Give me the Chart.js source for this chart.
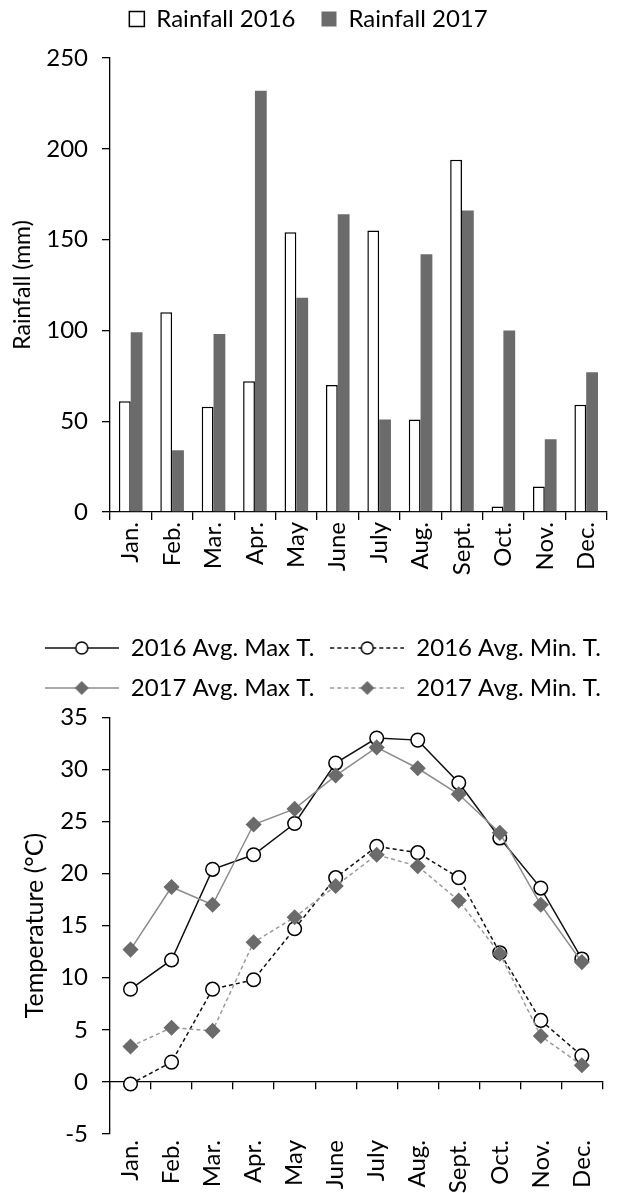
<!DOCTYPE html>
<html lang="en">
<head>
<meta charset="UTF-8">
<title>Rainfall and temperature 2016-2017</title>
<script src="https://cdn.jsdelivr.net/npm/chart.js@4.4.3/dist/chart.umd.min.js"></script>
<style>
    * { margin: 0; padding: 0; }
    body { background: #fff; width: 617px; }
    .chartBox { position: relative; width: 617px; }
    #rainBox { height: 597px; }
    #tempBox { height: 596px; }
</style>
</head>
<body>
<div class="chartBox" id="rainBox"><canvas id="rainChart"></canvas></div>
<div class="chartBox" id="tempBox"><canvas id="tempChart"></canvas></div>
<script>
const months = ['Jan.', 'Feb.', 'Mar.', 'Apr.', 'May', 'June', 'July', 'Aug.', 'Sept.', 'Oct.', 'Nov.', 'Dec.'];

// monthly rainfall (mm)
const rain2016 = [61, 110, 58, 72, 154, 70, 155, 51, 194, 3, 14, 59];
const rain2017 = [99, 34, 98, 232, 118, 164, 51, 142, 166, 100, 40, 77];

// monthly average temperatures (°C)
const maxT2016 = [8.9, 11.7, 20.4, 21.8, 24.8, 30.6, 33.0, 32.8, 28.7, 23.4, 18.6, 11.8];
const minT2016 = [-0.2, 1.9, 8.9, 9.8, 14.7, 19.6, 22.6, 22.0, 19.6, 12.4, 5.9, 2.5];
const maxT2017 = [12.7, 18.7, 17.0, 24.7, 26.2, 29.4, 32.1, 30.1, 27.6, 23.9, 17.0, 11.5];
const minT2017 = [3.4, 5.2, 4.9, 13.4, 15.8, 18.8, 21.8, 20.7, 17.4, 12.3, 4.4, 1.6];

const rainTicks = [0, 50, 100, 150, 200, 250];
const tempTicks = [-5, 0, 5, 10, 15, 20, 25, 30, 35];

const FONT = 'Lato, "Open Sans", sans-serif';
const BLACK = '#000';
const DARK = '#6b6b6b';
const LIGHT = '#8c8c8c';

Chart.defaults.font.family = FONT;
Chart.defaults.color = BLACK;

// little line-marker-line picture for the temperature legend
const legendSwatch = (lineColor, dash, marker) => {
    const c = document.createElement('canvas');
    c.width = 74;
    c.height = 18;
    const g = c.getContext('2d');
    g.strokeStyle = lineColor;
    g.lineWidth = 1.5;
    g.setLineDash(dash);
    g.beginPath();
    g.moveTo(0, 9);
    g.lineTo(74, 9);
    g.stroke();
    g.setLineDash([]);
    g.beginPath();
    if (marker === 'circle') {
        g.arc(37, 9, 6, 0, Math.PI * 2);
        g.fillStyle = '#fff';
        g.fill();
        g.strokeStyle = BLACK;
        g.stroke();
    } else {
        g.moveTo(37, 2);
        g.lineTo(44, 9);
        g.lineTo(37, 16);
        g.lineTo(30, 9);
        g.closePath();
        g.fillStyle = DARK;
        g.fill();
    }
    return c;
};

const leftAxis = (ticks, title, titleSize, titlePad, topPad) => ({
    min: ticks[0],
    max: ticks[ticks.length - 1],
    ticks: { stepSize: ticks[1] - ticks[0], font: { size: 24 }, padding: 14, color: BLACK },
    grid: { drawOnChartArea: false, drawTicks: true, tickLength: 8, color: BLACK, lineWidth: 1.3 },
    border: { display: true, color: BLACK, width: 1.3 },
    title: { display: true, text: title, font: { size: titleSize }, padding: { top: titlePad, bottom: 0 }, color: BLACK },
    afterFit: (s) => { s.width = 110; s.paddingTop = topPad; }
});

// ---- rainfall bars ----
new Chart(document.getElementById('rainChart'), {
    type: 'bar',
    data: {
        labels: months,
        datasets: [
            { label: 'Rainfall 2016', data: rain2016, backgroundColor: '#fff', borderColor: BLACK, borderWidth: 1.5 },
            { label: 'Rainfall 2017', data: rain2017, backgroundColor: DARK, borderColor: DARK, borderWidth: 0 }
        ]
    },
    options: {
        responsive: true,
        maintainAspectRatio: false,
        animation: false,
        // negative top lets the legend keep a wide item gap without moving down
        layout: { padding: { top: -19, left: 0, right: 0, bottom: 0 } },
        datasets: { bar: { barPercentage: 1.0, categoryPercentage: 0.57 } },
        plugins: {
            tooltip: { enabled: false },
            legend: {
                labels: { boxWidth: 15, boxHeight: 15, padding: 26, font: { size: 24 }, color: BLACK }
            },
            title: { display: true, text: '', weight: 500, font: { size: 10 }, padding: { top: 0, bottom: 5 } }
        },
        scales: {
            x: {
                offset: true,
                grid: { offset: true, drawOnChartArea: false, drawTicks: true, tickLength: 8, color: BLACK, lineWidth: 1.3 },
                border: { display: true, color: BLACK, width: 1.3 },
                ticks: { minRotation: 90, maxRotation: 90, autoSkip: false, padding: 2, font: { size: 24 }, color: BLACK },
                afterFit: (s) => { s.height = 85; }
            },
            y: leftAxis(rainTicks, 'Rainfall (mm)', 23, 9, 12)
        }
    }
});

// ---- temperature lines ----
const tempSets = [
    { label: '2016 Avg. Max T.', data: maxT2016, borderColor: '#111', borderDash: [], pointStyle: 'circle', pointRadius: 6.8, pointBackgroundColor: '#fff', pointBorderColor: BLACK, order: 2, swatch: legendSwatch('#111', [], 'circle') },
    { label: '2016 Avg. Min. T.', data: minT2016, borderColor: '#111', borderDash: [4, 3], pointStyle: 'circle', pointRadius: 6.8, pointBackgroundColor: '#fff', pointBorderColor: BLACK, order: 2, swatch: legendSwatch('#111', [4, 3], 'circle') },
    { label: '2017 Avg. Max T.', data: maxT2017, borderColor: LIGHT, borderDash: [], pointStyle: 'rectRot', pointRadius: 7, pointBackgroundColor: DARK, pointBorderColor: DARK, order: 1, swatch: legendSwatch(LIGHT, [], 'diamond') },
    { label: '2017 Avg. Min. T.', data: minT2017, borderColor: '#9a9a9a', borderDash: [4, 3], pointStyle: 'rectRot', pointRadius: 7, pointBackgroundColor: DARK, pointBorderColor: DARK, order: 1, swatch: legendSwatch('#9a9a9a', [4, 3], 'diamond') }
];

new Chart(document.getElementById('tempChart'), {
    type: 'line',
    data: {
        labels: months,
        datasets: tempSets.map(d => ({
            label: d.label,
            data: d.data,
            borderColor: d.borderColor,
            borderDash: d.borderDash,
            borderWidth: 1.5,
            tension: 0,
            fill: false,
            pointStyle: d.pointStyle,
            pointRadius: d.pointRadius,
            pointBorderWidth: 1.5,
            pointBackgroundColor: d.pointBackgroundColor,
            pointBorderColor: d.pointBorderColor,
            order: d.order
        }))
    },
    options: {
        responsive: true,
        maintainAspectRatio: false,
        animation: false,
        layout: { padding: { top: 23, left: 0, right: 0, bottom: 0 } },
        plugins: {
            tooltip: { enabled: false },
            legend: {
                align: 'end',
                labels: {
                    usePointStyle: true,
                    pointStyleWidth: 74,
                    padding: 16,
                    font: { size: 24 },
                    color: BLACK,
                    sort: (a, b) => a.datasetIndex - b.datasetIndex,
                    generateLabels: (chart) => Chart.defaults.plugins.legend.labels.generateLabels(chart).map(item => {
                        item.pointStyle = tempSets[item.datasetIndex].swatch;
                        return item;
                    })
                }
            },
            title: { display: true, text: '', weight: 500, font: { size: 6 }, padding: 0 }
        },
        scales: {
            x: {
                offset: true,
                grid: { display: false, drawTicks: false },
                border: { display: false },
                ticks: { minRotation: 90, maxRotation: 90, autoSkip: false, padding: 6, font: { size: 24 }, color: BLACK },
                afterFit: (s) => { s.height = 59; }
            },
            // axis line drawn through zero, tick marks only
            x2: {
                type: 'category',
                position: { y: 0 },
                offset: true,
                grid: { offset: true, drawOnChartArea: false, drawTicks: true, tickLength: 7, color: BLACK, lineWidth: 1.3 },
                border: { display: true, color: BLACK, width: 1.3 },
                ticks: { display: false },
                afterFit: (s) => { s.height = 0; }
            },
            y: leftAxis(tempTicks, 'Temperature (°C)', 25, 20, 9)
        }
    }
});
</script>
</body>
</html>
